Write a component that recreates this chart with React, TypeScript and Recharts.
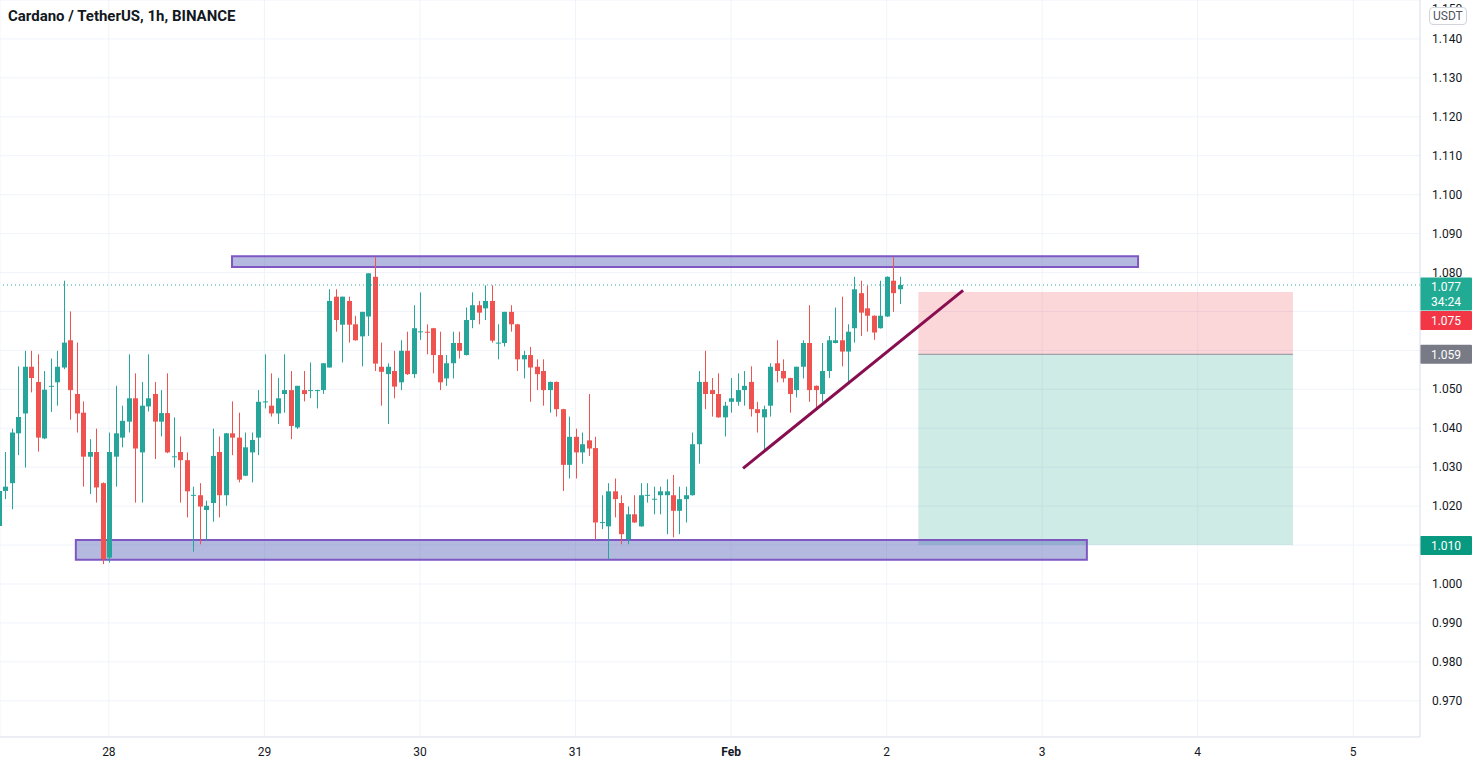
import { Bar, CartesianGrid, ComposedChart, ReferenceArea, ReferenceLine, XAxis, YAxis } from 'recharts';

const UP = '#26a69a';
const DOWN = '#ef5350';
const FONT = 'Roboto, "Liberation Sans", sans-serif';

// hourly candles as [open, high, low, close]; the first one is Jan 27 07:00
const jan27 = [
  [1.0149, 1.0252, 1.0141, 1.0239],
  [1.0239, 1.0339, 1.0218, 1.025],
  [1.0259, 1.0399, 1.0192, 1.0389],
  [1.0387, 1.0559, 1.0331, 1.0429],
  [1.0438, 1.0599, 1.0299, 1.0558],
  [1.0558, 1.0599, 1.0492, 1.0529],
  [1.0519, 1.059, 1.034, 1.0376],
  [1.0374, 1.0547, 1.0372, 1.0499],
  [1.0507, 1.0579, 1.0442, 1.0509],
  [1.0518, 1.0599, 1.0458, 1.0558],
  [1.0556, 1.0779, 1.0552, 1.062],
  [1.0626, 1.07, 1.0422, 1.0498],
  [1.0488, 1.062, 1.0389, 1.0438],
  [1.044, 1.0469, 1.025, 1.0327],
  [1.0327, 1.0372, 1.0231, 1.0339],
  [1.0339, 1.0399, 1.0209, 1.0248],
  [1.0259, 1.0261, 1.0051, 1.0064],
];

const jan28 = [
  [1.0068, 1.0389, 1.0055, 1.0339],
  [1.0327, 1.0509, 1.025, 1.0387],
  [1.0376, 1.0458, 1.0351, 1.0419],
  [1.0417, 1.059, 1.0389, 1.0477],
  [1.0477, 1.0541, 1.0209, 1.0348],
  [1.0338, 1.0519, 1.0209, 1.0458],
  [1.0456, 1.059, 1.0443, 1.0477],
  [1.0488, 1.0519, 1.0321, 1.0417],
  [1.0417, 1.0498, 1.0379, 1.0439],
  [1.0439, 1.0541, 1.0336, 1.0338],
  [1.0327, 1.0428, 1.0299, 1.0328],
  [1.0339, 1.0379, 1.0209, 1.0318],
  [1.0318, 1.0338, 1.0171, 1.0238],
  [1.0228, 1.025, 1.0083, 1.0229],
  [1.0228, 1.0259, 1.0102, 1.0199],
  [1.019, 1.0214, 1.0111, 1.0201],
  [1.0208, 1.0399, 1.016, 1.0329],
  [1.0339, 1.0379, 1.0171, 1.0228],
  [1.0228, 1.0388, 1.0201, 1.0387],
  [1.0387, 1.0469, 1.0331, 1.0376],
  [1.0376, 1.044, 1.0261, 1.0268],
  [1.0278, 1.0389, 1.0277, 1.0351],
  [1.0338, 1.0389, 1.0261, 1.037],
  [1.0376, 1.0498, 1.0331, 1.0468],
];

const jan29 = [
  [1.0468, 1.059, 1.0451, 1.0469],
  [1.0458, 1.0541, 1.043, 1.0438],
  [1.0438, 1.0529, 1.0411, 1.0477],
  [1.0488, 1.059, 1.044, 1.0498],
  [1.0498, 1.0547, 1.0372, 1.0406],
  [1.0402, 1.0509, 1.0398, 1.0509],
  [1.0498, 1.0547, 1.0469, 1.0488],
  [1.0498, 1.0569, 1.0477, 1.0498],
  [1.0498, 1.0499, 1.0451, 1.0498],
  [1.0498, 1.0567, 1.0488, 1.0567],
  [1.0556, 1.0757, 1.0556, 1.0727],
  [1.0738, 1.0757, 1.0648, 1.0678],
  [1.0666, 1.0738, 1.0569, 1.0738],
  [1.0727, 1.0738, 1.062, 1.0666],
  [1.0667, 1.0689, 1.0625, 1.0626],
  [1.0636, 1.0699, 1.0559, 1.0699],
  [1.0687, 1.0798, 1.0637, 1.0798],
  [1.0789, 1.0839, 1.0547, 1.0566],
  [1.0558, 1.062, 1.0458, 1.0545],
  [1.0539, 1.0567, 1.0411, 1.0558],
  [1.0547, 1.0599, 1.0477, 1.0507],
  [1.0518, 1.0626, 1.0498, 1.0599],
  [1.0599, 1.0648, 1.0537, 1.0539],
  [1.0539, 1.0716, 1.0529, 1.0657],
];

const jan30 = [
  [1.0648, 1.0749, 1.0627, 1.0649],
  [1.0648, 1.0667, 1.059, 1.0647],
  [1.0657, 1.0658, 1.0541, 1.0588],
  [1.0588, 1.0648, 1.0498, 1.0518],
  [1.0528, 1.0588, 1.0509, 1.0567],
  [1.0567, 1.0648, 1.0528, 1.0619],
  [1.0619, 1.0648, 1.0579, 1.0599],
  [1.0588, 1.071, 1.0587, 1.0678],
  [1.0678, 1.0749, 1.0657, 1.0716],
  [1.0716, 1.0727, 1.0667, 1.0697],
  [1.0708, 1.0767, 1.0678, 1.0727],
  [1.0727, 1.0767, 1.062, 1.0625],
  [1.0619, 1.0667, 1.0577, 1.062],
  [1.0619, 1.0699, 1.061, 1.0699],
  [1.0699, 1.0716, 1.0648, 1.0667],
  [1.0667, 1.0668, 1.0547, 1.0577],
  [1.0577, 1.0599, 1.0528, 1.0588],
  [1.0588, 1.0609, 1.0468, 1.0556],
  [1.0558, 1.0577, 1.0498, 1.0539],
  [1.0547, 1.0577, 1.0458, 1.0498],
  [1.0498, 1.052, 1.044, 1.0519],
  [1.0519, 1.052, 1.043, 1.0449],
  [1.0449, 1.045, 1.0239, 1.0306],
  [1.0306, 1.043, 1.0271, 1.0378],
];

const jan31 = [
  [1.0378, 1.0399, 1.0271, 1.0338],
  [1.0338, 1.0389, 1.0309, 1.0359],
  [1.0369, 1.0488, 1.0329, 1.0348],
  [1.0349, 1.0378, 1.0115, 1.0158],
  [1.0158, 1.0228, 1.0141, 1.0159],
  [1.0148, 1.0259, 1.0064, 1.0238],
  [1.0238, 1.0271, 1.0171, 1.0218],
  [1.0208, 1.0228, 1.0102, 1.0128],
  [1.0115, 1.0199, 1.0102, 1.0179],
  [1.0179, 1.0228, 1.0157, 1.0158],
  [1.0148, 1.0259, 1.0147, 1.0228],
  [1.0228, 1.0259, 1.0209, 1.0229],
  [1.0218, 1.025, 1.0179, 1.0219],
  [1.0228, 1.025, 1.0179, 1.0238],
  [1.0228, 1.0269, 1.0128, 1.0238],
  [1.0228, 1.028, 1.012, 1.0188],
  [1.0188, 1.025, 1.0128, 1.0218],
  [1.0218, 1.025, 1.0158, 1.0228],
  [1.0228, 1.0389, 1.0227, 1.0359],
  [1.0359, 1.0547, 1.0309, 1.0519],
  [1.0519, 1.0599, 1.0449, 1.0488],
  [1.0498, 1.0529, 1.043, 1.0488],
  [1.0488, 1.0541, 1.0427, 1.0428],
  [1.0428, 1.0468, 1.0379, 1.0458],
];

const feb1 = [
  [1.0468, 1.0529, 1.044, 1.0477],
  [1.0468, 1.0541, 1.0458, 1.0498],
  [1.0498, 1.0547, 1.0458, 1.0509],
  [1.0519, 1.0559, 1.043, 1.0449],
  [1.0449, 1.0468, 1.0389, 1.0439],
  [1.0428, 1.0458, 1.0342, 1.0449],
  [1.0458, 1.0567, 1.043, 1.0558],
  [1.0567, 1.0626, 1.0518, 1.0547],
  [1.0547, 1.0577, 1.0518, 1.0528],
  [1.0529, 1.053, 1.044, 1.0488],
  [1.0498, 1.0558, 1.0479, 1.0558],
  [1.0558, 1.0626, 1.0528, 1.0619],
  [1.0619, 1.0716, 1.0468, 1.0498],
  [1.0509, 1.051, 1.0449, 1.0498],
  [1.0488, 1.0619, 1.0468, 1.0547],
  [1.0547, 1.0637, 1.0529, 1.0626],
  [1.0619, 1.071, 1.0618, 1.0626],
  [1.0626, 1.0738, 1.0559, 1.0597],
  [1.0597, 1.0667, 1.0518, 1.0648],
  [1.0657, 1.0789, 1.062, 1.0757],
  [1.0747, 1.0779, 1.0637, 1.0697],
  [1.0708, 1.0767, 1.0648, 1.0689],
  [1.0689, 1.069, 1.0627, 1.0646],
  [1.0657, 1.0779, 1.0656, 1.0689],
];

const feb2 = [
  [1.0687, 1.079, 1.0686, 1.0789],
  [1.0779, 1.0839, 1.0699, 1.0747],
  [1.0757, 1.0789, 1.0719, 1.0768],
];

const firstHour = -17; // hours relative to Jan 28 00:00

const candles = [...jan27, ...jan28, ...jan29, ...jan30, ...jan31, ...feb1, ...feb2].map(([o, h, l, c], i) => ({
  t: firstHour + i,
  o,
  h,
  l,
  c,
  range: [l, h],
}));

const dayTicks = [0, 24, 48, 72, 96, 120, 144, 168, 192];
const dayLabels = ['28', '29', '30', '31', 'Feb', '2', '3', '4', '5'];
const priceTicks = [0.97, 0.98, 0.99, 1.0, 1.01, 1.02, 1.03, 1.04, 1.05, 1.06, 1.07, 1.08, 1.09, 1.1, 1.11, 1.12, 1.13, 1.14, 1.15];
// axis labels that sit under the price tags on the right scale
const coveredTicks = [1.01, 1.06, 1.07];

// drawings
const resistance = { from: 19, to: 158.8, low: 1.0814, high: 1.0842 };
const support = { from: -5.1, to: 150.9, low: 1.0062, high: 1.0113 };
const trend = [
  { t: 97.85, p: 1.0297 },
  { t: 131.8, p: 1.0754 },
];
const position = { from: 124.9, to: 182.7, stop: 1.075, entry: 1.059, target: 1.01 };
const lastPrice = 1.0768;

function Candle(props: any) {
  const { x, y, width, height, payload } = props;
  if (!payload) return null;
  const { o, h, l, c } = payload;
  const top = Math.min(y, y + height);
  const bottom = Math.max(y, y + height);
  const k = (bottom - top) / (h - l || 1);
  const py = (v: number) => top + (h - v) * k;
  const cx = Math.round(x + width / 2) + 0.5;
  const color = c >= o ? UP : DOWN;
  const bodyTop = py(Math.max(o, c));
  const bodyH = Math.max(1, py(Math.min(o, c)) - bodyTop);
  return (
    <g>
      <line x1={cx} x2={cx} y1={top} y2={bottom} stroke={color} strokeWidth={1} />
      <rect x={cx - 2.5} y={bodyTop} width={5} height={bodyH} fill={color} />
    </g>
  );
}

function DayTick({ x, y, payload }: any) {
  const label = dayLabels[dayTicks.indexOf(payload.value)] ?? '';
  return (
    <text x={x} y={y} dy={11} textAnchor="middle" fill="#131722" fontSize={12} fontFamily={FONT} fontWeight={label === 'Feb' ? 700 : 400}>
      {label}
    </text>
  );
}

function PriceTick({ x, y, payload }: any) {
  if (coveredTicks.some((v) => Math.abs(v - payload.value) < 1e-6)) return null;
  return (
    <text x={x} y={y} dy={4} textAnchor="start" fill="#131722" fontSize={12} fontFamily={FONT}>
      {Number(payload.value).toFixed(3)}
    </text>
  );
}

function PriceTag({ viewBox, text, sub, color, shift }: any) {
  if (!viewBox) return null;
  const x = viewBox.x + viewBox.width;
  const top = viewBox.y + shift;
  const h = sub ? 33 : 19;
  return (
    <g>
      <rect x={x} y={top} width={52} height={h} fill={color} rx={1} />
      <text x={x + 26} y={top + 14} textAnchor="middle" fill="#fff" fontSize={12} fontFamily={FONT}>
        {text}
      </text>
      {sub && (
        <text x={x + 26} y={top + 29} textAnchor="middle" fill="#fff" fontSize={12} fontFamily={FONT}>
          {sub}
        </text>
      )}
    </g>
  );
}

export default function App() {
  return (
    <div style={{ position: 'absolute', left: 0, top: 0, width: 1476, height: 765, background: '#fff' }}>
      <ComposedChart width={1476} height={765} data={candles} margin={{ top: 0, right: 0, bottom: 0, left: 0 }}>
        <CartesianGrid stroke="#f0f3fa" />
        <XAxis
          dataKey="t"
          type="number"
          domain={[-16.8, 202.3]}
          ticks={dayTicks}
          allowDataOverflow
          height={28}
          tickLine={false}
          axisLine={{ stroke: '#e0e3eb' }}
          tick={<DayTick />}
        />
        <YAxis
          orientation="right"
          type="number"
          domain={[0.9607, 1.15]}
          ticks={priceTicks}
          allowDataOverflow
          width={56}
          tickLine={false}
          tickMargin={6}
          axisLine={{ stroke: '#e0e3eb' }}
          tick={<PriceTick />}
        />
        <Bar dataKey="range" barSize={5} shape={<Candle />} isAnimationActive={false} />
        <ReferenceArea x1={position.from} x2={position.to} y1={position.entry} y2={position.stop} fill="rgba(242,54,69,0.2)" fillOpacity={1} stroke="none" />
        <ReferenceArea x1={position.from} x2={position.to} y1={position.target} y2={position.entry} fill="rgba(8,153,129,0.2)" fillOpacity={1} stroke="none" />
        <ReferenceLine segment={[{ x: position.from, y: position.entry }, { x: position.to, y: position.entry }]} stroke="#8f919a" strokeWidth={1} />
        <ReferenceArea x1={resistance.from} x2={resistance.to} y1={resistance.low} y2={resistance.high} fill="rgba(57,73,171,0.38)" fillOpacity={1} stroke="#7e57c2" strokeWidth={2} />
        <ReferenceArea x1={support.from} x2={support.to} y1={support.low} y2={support.high} fill="rgba(57,73,171,0.38)" fillOpacity={1} stroke="#7e57c2" strokeWidth={2} />
        <ReferenceLine segment={[{ x: trend[0].t, y: trend[0].p }, { x: trend[1].t, y: trend[1].p }]} stroke="#880e4f" strokeWidth={3} />
        <ReferenceLine y={lastPrice} stroke={UP} strokeDasharray="1 3" label={<PriceTag text="1.077" sub="34:24" color="#22ab94" shift={-7.5} />} />
        <ReferenceLine y={position.stop} stroke="none" strokeOpacity={0} label={<PriceTag text="1.075" color="#f23645" shift={19} />} />
        <ReferenceLine y={position.entry} stroke="none" strokeOpacity={0} label={<PriceTag text="1.059" color="#787b86" shift={-9.5} />} />
        <ReferenceLine y={position.target} stroke="none" strokeOpacity={0} label={<PriceTag text="1.010" color="#089981" shift={-9} />} />
      </ComposedChart>
      <div style={{ position: 'absolute', left: 8, top: 7, fontFamily: FONT, fontWeight: 700, fontSize: 15, color: '#131722' }}>
        Cardano / TetherUS, 1h, BINANCE
      </div>
      <div
        style={{
          position: 'absolute',
          left: 1429,
          top: 7,
          padding: '1px 3px',
          border: '1px solid #d1d4dc',
          borderRadius: 4,
          background: '#fff',
          fontFamily: FONT,
          fontSize: 12,
          color: '#50535e',
        }}
      >
        USDT
      </div>
    </div>
  );
}
